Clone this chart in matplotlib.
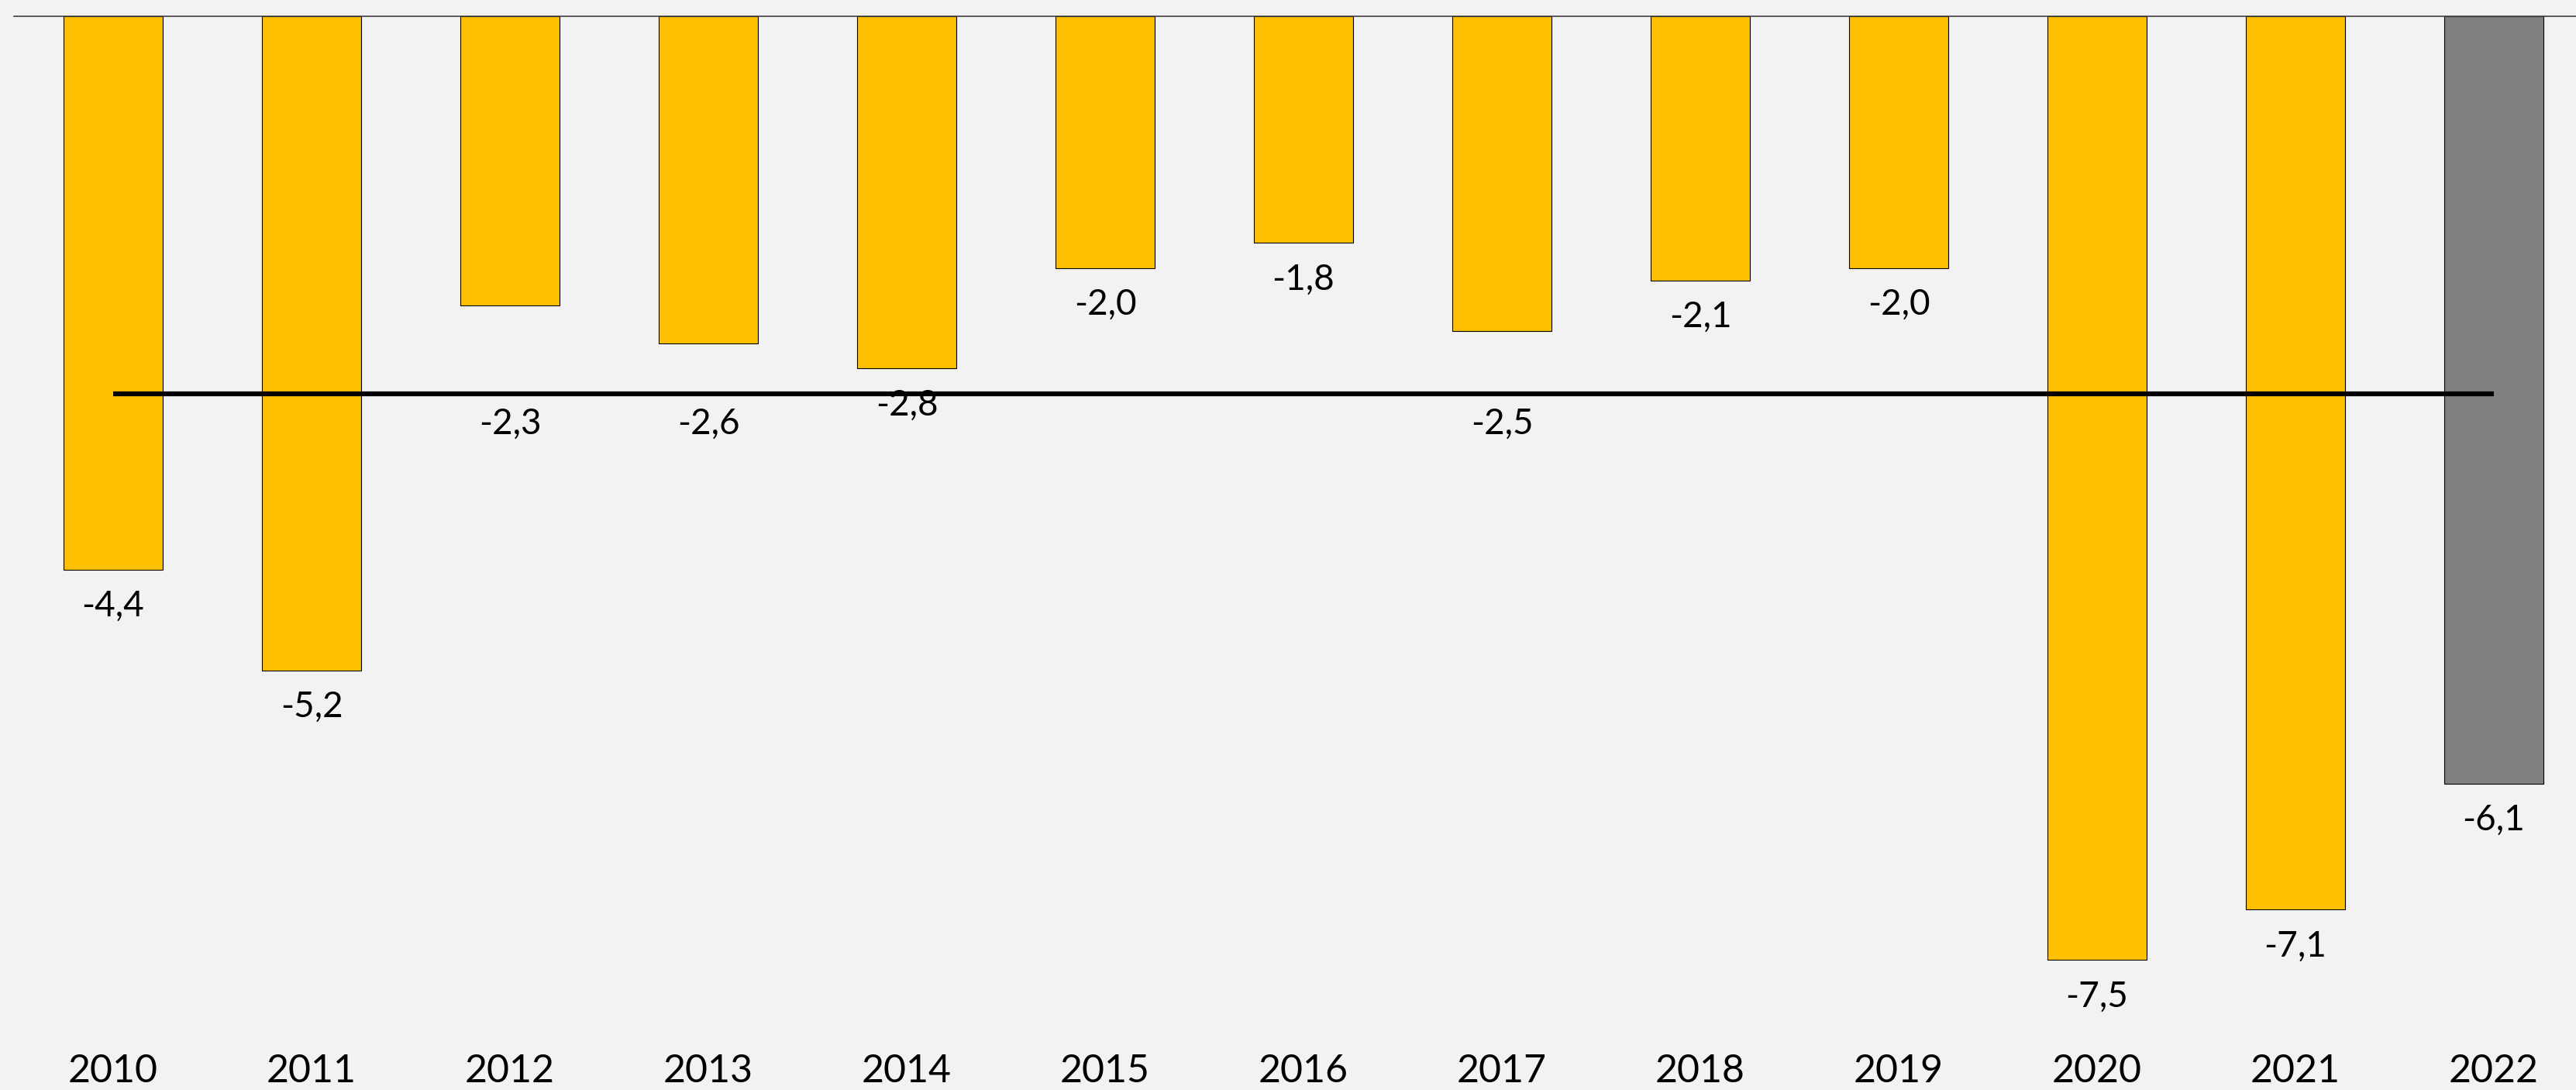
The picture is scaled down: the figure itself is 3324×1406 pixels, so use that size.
import matplotlib
matplotlib.use("Agg")
import matplotlib.pyplot as plt

years = ['2010', '2011', '2012', '2013', '2014', '2015', '2016',
         '2017', '2018', '2019', '2020', '2021', '2022']
values = [-4.4, -5.2, -2.3, -2.6, -2.8, -2.0, -1.8,
          -2.5, -2.1, -2.0, -7.5, -7.1, -6.1]
average = -3.0

plt.rcParams['font.family'] = ['Lato', 'DejaVu Sans']

W, H = 3324, 1406
fig = plt.figure(figsize=(W / 100, H / 100), dpi=100)
fig.patch.set_facecolor('#f2f2f2')

# axes: zero line at the top, bottom of figure as lower limit
top_px = 21
ax = fig.add_axes([18 / W, 0, (W - 18) / W, (H - top_px) / H])
ax.set_facecolor('#f2f2f2')
px_per_unit = 162.3
ax.set_ylim(-(H - top_px) / px_per_unit, 0)
ax.set_xlim(-0.5, -0.5 + (W - 18) / 256)

colors = ['#ffc000'] * (len(values) - 1) + ['#808080']
x = list(range(len(values)))
ax.bar(x, values, width=0.5, color=colors, edgecolor='black', linewidth=0.8, zorder=2)

# average line
ax.plot([x[0], x[-1]], [average, average], color='black', linewidth=4.5, zorder=3,
        solid_capstyle='butt')

# value labels below bar ends, pushed under the average line when they collide
for xi, v in zip(x, values):
    ly = v - 0.29
    if average < ly < average + 0.5:
        ly = average - 0.24
    ax.text(xi, ly, f'{v:.1f}'.replace('.', ','), ha='center', va='center',
            fontsize=33, color='black', zorder=4)

for xi, yr in zip(x, years):
    ax.text(xi, -(1382 - top_px) / px_per_unit, yr, ha='center', va='center',
            fontsize=36, color='black')

for s in ['left', 'right', 'bottom']:
    ax.spines[s].set_visible(False)
ax.spines['top'].set_color('#404040')
ax.spines['top'].set_linewidth(1.2)
ax.set_xticks([])
ax.set_yticks([])

fig.savefig('out.png', dpi=100, facecolor=fig.get_facecolor())
